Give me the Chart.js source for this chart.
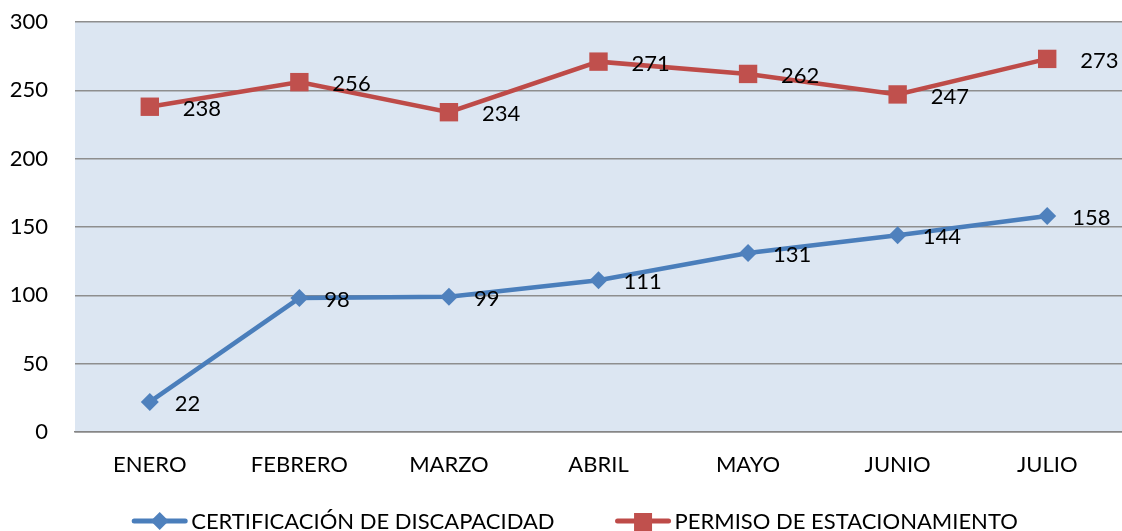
<!DOCTYPE html>
<html>
<head>
<meta charset="utf-8">
<script src="https://cdn.jsdelivr.net/npm/chart.js@4"></script>
<style>
  html, body { margin: 0; padding: 0; background: #ffffff; overflow: hidden; }
  #wrap { width: 1122px; height: 531px; }
</style>
</head>
<body>
<div id="wrap"><canvas id="lineChart"></canvas></div>
<script>
// ----------- data --------- //
const months = ["ENERO", "FEBRERO", "MARZO", "ABRIL", "MAYO", "JUNIO", "JULIO"];
const certificacion = [22, 98, 99, 111, 131, 144, 158];
const permiso = [238, 256, 234, 271, 262, 247, 273];
const yTicks = [0, 50, 100, 150, 200, 250, 300];

const seriesNames = ["CERTIFICACIÓN DE DISCAPACIDAD", "PERMISO DE ESTACIONAMIENTO"];

const FONT = "Lato, 'Open Sans', sans-serif";
const BLUE = "#4a7ebb";
const BLUE_MARK = "#4f81bd";
const RED = "#be4b48";
const RED_MARK = "#c0504d";

// light blue plot background
const plotBackground = {
  id: "plotBackground",
  beforeDraw(chart) {
    const { ctx, chartArea: a } = chart;
    ctx.save();
    ctx.fillStyle = "#dce6f2";
    ctx.fillRect(a.left, a.top, a.right - a.left, a.bottom - a.top);
    ctx.restore();
  },
};

// value labels to the right of every point
const valueLabels = {
  id: "valueLabels",
  afterDatasetsDraw(chart) {
    const ctx = chart.ctx;
    ctx.save();
    ctx.font = "22px " + FONT;
    ctx.fillStyle = "#000000";
    ctx.textAlign = "left";
    ctx.textBaseline = "middle";
    chart.data.datasets.forEach((ds, i) => {
      const meta = chart.getDatasetMeta(i);
      const dx = ds.labelShift;
      meta.data.forEach((pt, j) => {
        ctx.fillText(String(ds.data[j]), pt.x + dx, pt.y + 2);
      });
    });
    ctx.restore();
  },
};

// legend drawn as line + marker like the original
const lineLegend = {
  id: "lineLegend",
  afterDraw(chart) {
    const ctx = chart.ctx;
    ctx.save();
    ctx.font = "22px " + FONT;
    ctx.textBaseline = "middle";
    const iconW = 55, gap = 4, itemGap = 61;
    const items = chart.data.datasets.map((ds) => ({
      ds,
      w: iconW + gap + ctx.measureText(ds.label).width,
    }));
    const total = items.reduce((s, it) => s + it.w, 0) + itemGap * (items.length - 1);
    let x = chart.width / 2 - total / 2 + 14;
    const y = 521;
    items.forEach((it) => {
      const ds = it.ds;
      ctx.strokeStyle = ds.borderColor;
      ctx.lineWidth = 5;
      ctx.lineCap = "round";
      ctx.beginPath();
      ctx.moveTo(x + 2, y);
      ctx.lineTo(x + iconW - 2, y);
      ctx.stroke();
      ctx.fillStyle = ds.pointBackgroundColor;
      const cx = x + iconW / 2;
      ctx.beginPath();
      if (ds.pointStyle === "rectRot") {
        ctx.moveTo(cx - 9, y);
        ctx.lineTo(cx, y - 9);
        ctx.lineTo(cx + 9, y);
        ctx.lineTo(cx, y + 9);
      } else {
        ctx.rect(cx - 9, y - 8, 18, 18);
      }
      ctx.closePath();
      ctx.fill();
      ctx.fillStyle = "#000000";
      ctx.textAlign = "left";
      ctx.fillText(ds.label, x + iconW + gap, y + 1);
      x += it.w + itemGap;
    });
    ctx.restore();
  },
};

new Chart(document.getElementById("lineChart"), {
  type: "line",
  data: {
    labels: months,
    datasets: [
      {
        label: seriesNames[0],
        data: certificacion,
        borderColor: BLUE,
        borderWidth: 4.5,
        pointStyle: "rectRot",
        pointRadius: 9,
        pointHoverRadius: 9,
        pointBackgroundColor: BLUE_MARK,
        pointBorderColor: BLUE_MARK,
        pointBorderWidth: 0,
        tension: 0,
        labelShift: 25,
      },
      {
        label: seriesNames[1],
        data: permiso,
        borderColor: RED,
        borderWidth: 4.5,
        pointStyle: "rect",
        pointRadius: 13,
        pointHoverRadius: 13,
        pointBackgroundColor: RED_MARK,
        pointBorderColor: RED_MARK,
        pointBorderWidth: 0,
        tension: 0,
        labelShift: 33,
      },
    ],
  },
  options: {
    responsive: true,
    maintainAspectRatio: false,
    animation: false,
    layout: { autoPadding: false, padding: { top: 22, right: 0, bottom: 52, left: 0 } },
    plugins: {
      legend: { display: false },
      tooltip: { enabled: false },
    },
    scales: {
      x: {
        offset: true,
        grid: { display: false, drawTicks: false },
        border: { display: true, color: "#868686", width: 1.5 },
        ticks: {
          color: "#000000",
          font: { family: FONT, size: 22 },
          padding: 20,
          maxRotation: 0,
          autoSkip: false,
        },
        afterFit(scale) {
          scale.height = 47;
          scale.paddingLeft = 0;
          scale.paddingRight = 0;
        },
      },
      y: {
        min: 0,
        max: 300,
        afterBuildTicks(scale) { scale.ticks = yTicks.map((v) => ({ value: v })); },
        grid: { color: "#8e8e8e", lineWidth: 1.5, drawTicks: false },
        border: { display: false },
        ticks: {
          color: "#000000",
          font: { family: FONT, size: 22 },
          padding: 27,
        },
        afterFit(scale) {
          scale.width = 75;
          scale.paddingTop = 0;
          scale.paddingBottom = 0;
        },
      },
    },
  },
  plugins: [plotBackground, valueLabels, lineLegend],
});
</script>
</body>
</html>
